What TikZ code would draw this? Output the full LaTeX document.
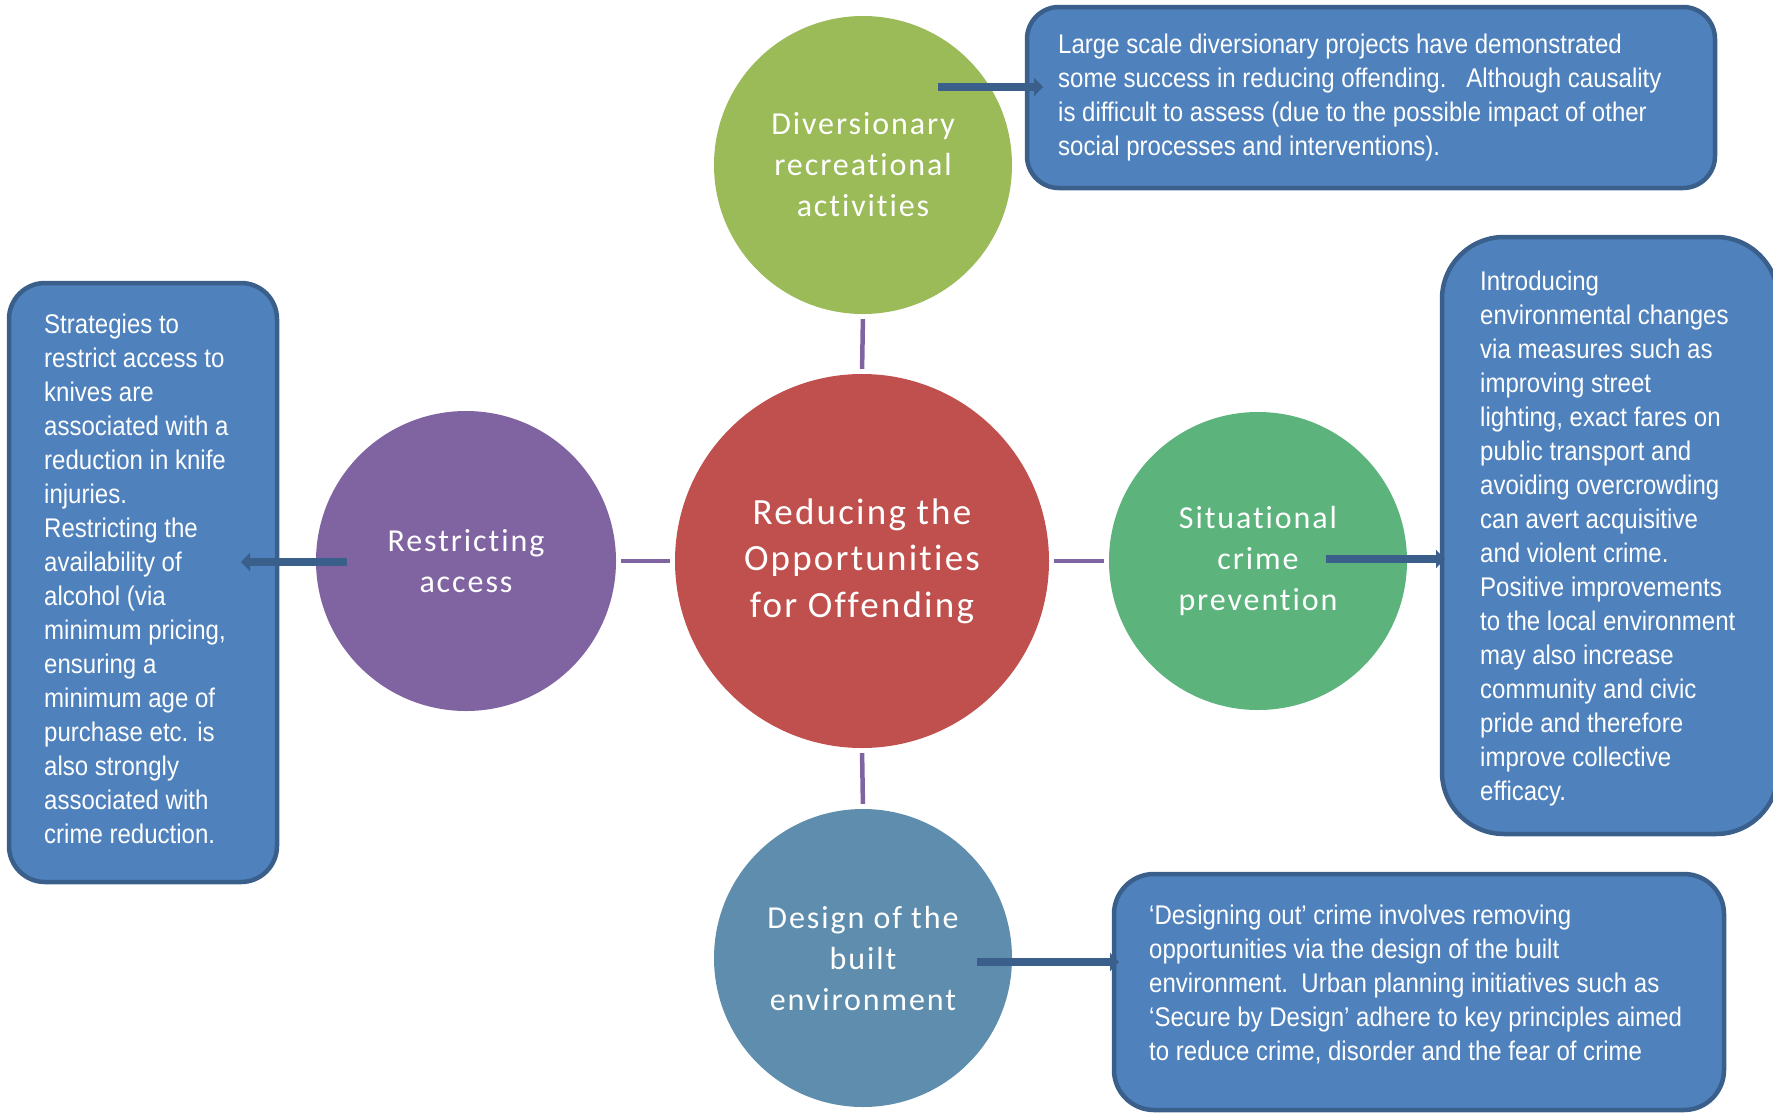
\documentclass[tikz,border=0pt]{standalone}
\usepackage{fontspec}
\setmainfont{Carlito}
\newfontfamily\circfont[LetterSpace=6,Ligatures=CommonOff]{Carlito}
\newfontfamily\narrowfont[FakeStretch=0.89]{Liberation Sans}
\usetikzlibrary{arrows.meta}
\definecolor{cgreen}{HTML}{9BBB59}
\definecolor{cred}{HTML}{C0504D}
\definecolor{cpurple}{HTML}{8064A2}
\definecolor{csit}{HTML}{5CB37C}
\definecolor{cdes}{HTML}{5F8DAD}
\definecolor{boxfill}{HTML}{4F81BD}
\definecolor{boxline}{HTML}{3A5F8B}
\tikzset{
  circ/.style={circle, inner sep=0pt, text=white, align=center,
    font=\circfont\fontsize{32}{41}\selectfont},
  bigcirc/.style={circ, font=\circfont\fontsize{37}{46.5}\selectfont},
  infobox/.style={draw=boxline, fill=boxfill, line width=4.5pt, inner sep=0pt},
  infotext/.style={anchor=north west, inner sep=0pt, text=white, align=left,
    font=\narrowfont\fontsize{27}{34}\selectfont},
  link/.style={draw=cpurple, line width=4.5pt, shorten >=5pt, shorten <=5pt},
  arr/.style={draw=boxline, line width=8pt, -{Triangle[length=9pt,width=18pt]}}
}
\begin{document}
\begin{tikzpicture}[x=1pt,y=-1pt]
\useasboundingbox (0,0) rectangle (1773,1114);
% boxes
\node[infobox, rounded corners=32pt, minimum width=688pt, minimum height=181pt] (tbox) at (1371,97.5) {};
\node[infobox, rounded corners=36pt, minimum width=268pt, minimum height=599pt] (lbox) at (143,582.5) {};
\node[infobox, rounded corners=62pt, minimum width=336pt, minimum height=597pt] (rbox) at (1610,535.5) {};
\node[infobox, rounded corners=40pt, minimum width=610pt, minimum height=236pt] (bbox) at (1419,992) {};
% box texts
\node[infotext] (ttext) at (1058,34) {Large scale diversionary projects have demonstrated\\some success in reducing offending.~~~Although causality\\is difficult to assess (due to the possible impact of other\\social processes and interventions).};
\node[infotext] (ltext) at (44,314) {Strategies to\\restrict access to\\knives are\\associated with a\\reduction in knife\\injuries.\\Restricting the\\availability of\\alcohol (via\\minimum pricing,\\ensuring a\\minimum age of\\purchase etc. is\\also strongly\\associated with\\crime reduction.};
\node[infotext] (rtext) at (1480,271) {Introducing\\environmental changes\\via measures such as\\improving street\\lighting, exact fares on\\public transport and\\avoiding overcrowding\\can avert acquisitive\\and violent crime.\\Positive improvements\\to the local environment\\may also increase\\community and civic\\pride and therefore\\improve collective\\efficacy.};
\node[infotext] (btext) at (1149,905) {‘Designing out’ crime involves removing\\opportunities via the design of the built\\environment.~~Urban planning initiatives such as\\‘Secure by Design’ adhere to key principles aimed\\to reduce crime, disorder and the fear of crime};
% circles
\node[circ, fill=cgreen, minimum size=298pt] (div) at (863,165) {Diversionary\\recreational\\activities};
\node[bigcirc, fill=cred, minimum size=374pt] (cen) at (862,561) {Reducing the\\Opportunities\\for Offending};
\node[circ, fill=cpurple, minimum size=300pt] (res) at (466,561) {Restricting\\access};
\node[circ, fill=csit, minimum size=298pt] (sit) at (1258,561) {Situational\\crime\\prevention};
\node[circ, fill=cdes, minimum size=298pt] (des) at (863,958) {Design of the\\built\\environment};
% links
\draw[link] (div.south) -- (cen.north);
\draw[link] (res.east) -- (cen.west);
\draw[link] (cen.east) -- (sit.west);
\draw[link] (cen.south) -- (des.north);
% arrows
\coordinate (a1s) at (938,87);  \coordinate (a1e) at (1043,87);
\coordinate (a2s) at (347,562); \coordinate (a2e) at (241,562);
\coordinate (a3s) at (1326,559); \coordinate (a3e) at (1445,559);
\coordinate (a4s) at (977,962); \coordinate (a4e) at (1119,962);
\draw[arr] (a1s) -- (a1e);
\draw[arr] (a2s) -- (a2e);
\draw[arr] (a3s) -- (a3e);
\draw[arr] (a4s) -- (a4e);
\end{tikzpicture}
\end{document}
